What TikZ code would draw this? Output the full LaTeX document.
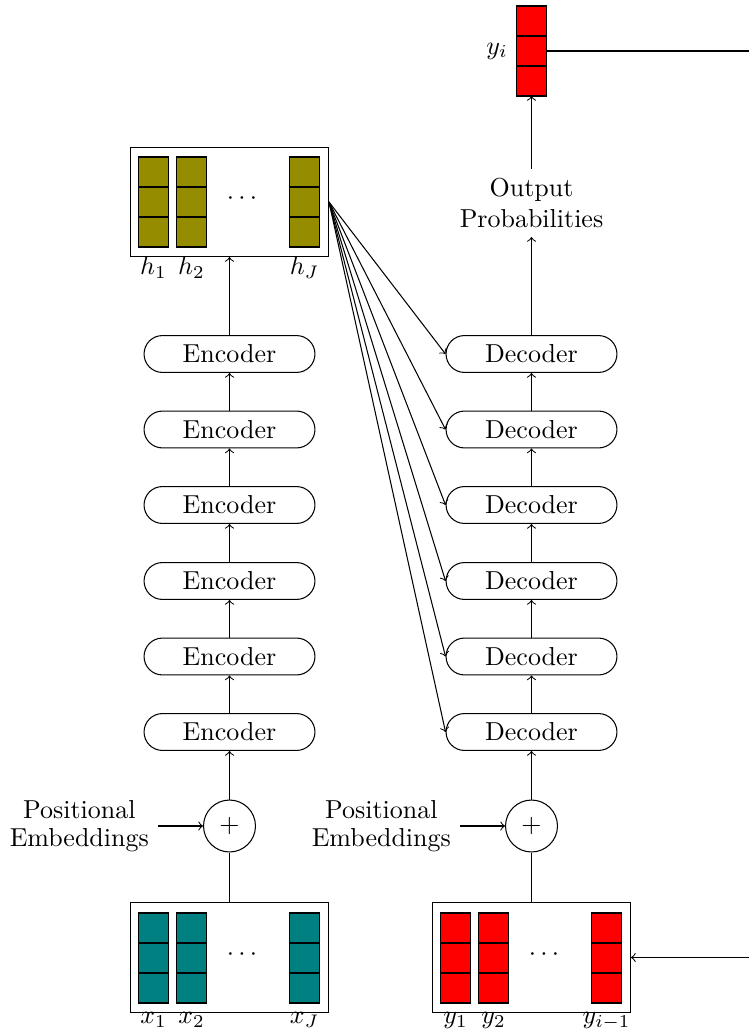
\documentclass[tikz,border=0pt]{standalone}
\usetikzlibrary{shapes.misc}
\definecolor{statecol}{RGB}{150,140,0}
% one stack of three cells: name, x, y of middle cell, fill colour
\newcommand\vecstack[4]{%
  \node[cell, fill=#4] (#1-2) at (#2,#3) {};
  \node[cell, fill=#4, anchor=south] (#1-1) at (#1-2.north) {};
  \node[cell, fill=#4, anchor=north] (#1-3) at (#1-2.south) {};
}
\begin{document}
\begin{tikzpicture}[x=0.385pt, y=-0.385pt,
  block/.style={draw, rounded rectangle, minimum width=65.8pt, minimum height=14.2pt, inner sep=0pt},
  sum/.style={draw, circle, minimum size=20pt, inner sep=0pt},
  frame/.style={draw, minimum width=76.2pt, minimum height=42pt, inner sep=0pt},
  cell/.style={draw, minimum width=11.2pt, minimum height=11.55pt, inner sep=0pt, outer sep=0pt},
  lbl/.style={align=center},
  pe/.style={align=center, anchor=east, execute at begin node={\setlength{\baselineskip}{10.6pt}}},
  >=to]
\useasboundingbox (0,0) rectangle (749,1033);

% ---------------- encoder side ----------------
\node[frame] (xbox) at (229.5,957.5) {};
\vecstack{xa}{153.5}{958}{teal}
\vecstack{xb}{191.5}{958}{teal}
\vecstack{xc}{304.5}{958}{teal}
\node (xdots) at (242,955) {$\cdots$};
\node[anchor=north] (lx1) at (xa-3.south) {$x_1$};
\node[anchor=north] (lx2) at (xb-3.south) {$x_2$};
\node[anchor=north] (lxJ) at (xc-3.south) {$x_J$};

\node[sum] (addE) at (229.5,826) {$+$};
\node[pe] (peE) at (158,826) {Positional\\Embeddings};

\foreach \i/\y in {1/732,2/656.5,3/581,4/505,5/429.5,6/354}
  \node[block] (enc\i) at (229.5,\y) {Encoder};

\node[frame] (hbox) at (229.5,202) {};
\vecstack{ha}{153.5}{202}{statecol}
\vecstack{hb}{191.5}{202}{statecol}
\vecstack{hc}{304.5}{202}{statecol}
\node (hdots) at (242,199) {$\cdots$};
\node[anchor=north] (lh1) at (ha-3.south) {$h_1$};
\node[anchor=north] (lh2) at (hb-3.south) {$h_2$};
\node[anchor=north] (lhJ) at (hc-3.south) {$h_J$};

\draw (xbox.north) -- (addE.south);
\draw[->] (peE.east) -- (addE.west);
\draw[->] (addE.north) -- (enc1.south);
\foreach \i/\j in {1/2,2/3,3/4,4/5,5/6}
  \draw[->] (enc\i.north) -- (enc\j.south);
\draw[->] (enc6.north) -- (hbox.south);

% ---------------- decoder side ----------------
\node[frame] (ybox) at (531.5,957.5) {};
\vecstack{ya}{455.5}{958}{red}
\vecstack{yb}{493.5}{958}{red}
\vecstack{yc}{606.5}{958}{red}
\node (ydots) at (544,955) {$\cdots$};
\node[anchor=north] (ly1) at (ya-3.south) {$y_1$};
\node[anchor=north] (ly2) at (yb-3.south) {$y_2$};
\node[anchor=north] (lyp) at (yc-3.south) {$y_{i-1}$};

\node[sum] (addD) at (531.5,826) {$+$};
\node[pe] (peD) at (460,826) {Positional\\Embeddings};

\foreach \i/\y in {1/732,2/656.5,3/581,4/505,5/429.5,6/354}
  \node[block] (dec\i) at (531.5,\y) {Decoder};

\node[lbl] (out) at (531.5,203) {Output\\Probabilities};
\vecstack{yi}{531.5}{51}{red}
\node[anchor=east] (lyi) at (yi-2.west) {$y_i$};

\draw (ybox.north) -- (addD.south);
\draw[->] (peD.east) -- (addD.west);
\draw[->] (addD.north) -- (dec1.south);
\foreach \i/\j in {1/2,2/3,3/4,4/5,5/6}
  \draw[->] (dec\i.north) -- (dec\j.south);
\draw[->] (dec6.north) -- (out.south);
\draw[->] (out.north) -- (yi-3.south);

% encoder states feed every decoder layer
\foreach \i in {1,...,6}
  \draw[->] (hbox.east) -- (dec\i.west);

% output fed back as the next decoder input
\coordinate (fbTop) at (749,51);
\coordinate (fbBot) at (749,957.5);
\draw (yi-2.east) -- (fbTop);
\draw[->] (fbBot) -- (ybox.east);
\end{tikzpicture}
\end{document}
